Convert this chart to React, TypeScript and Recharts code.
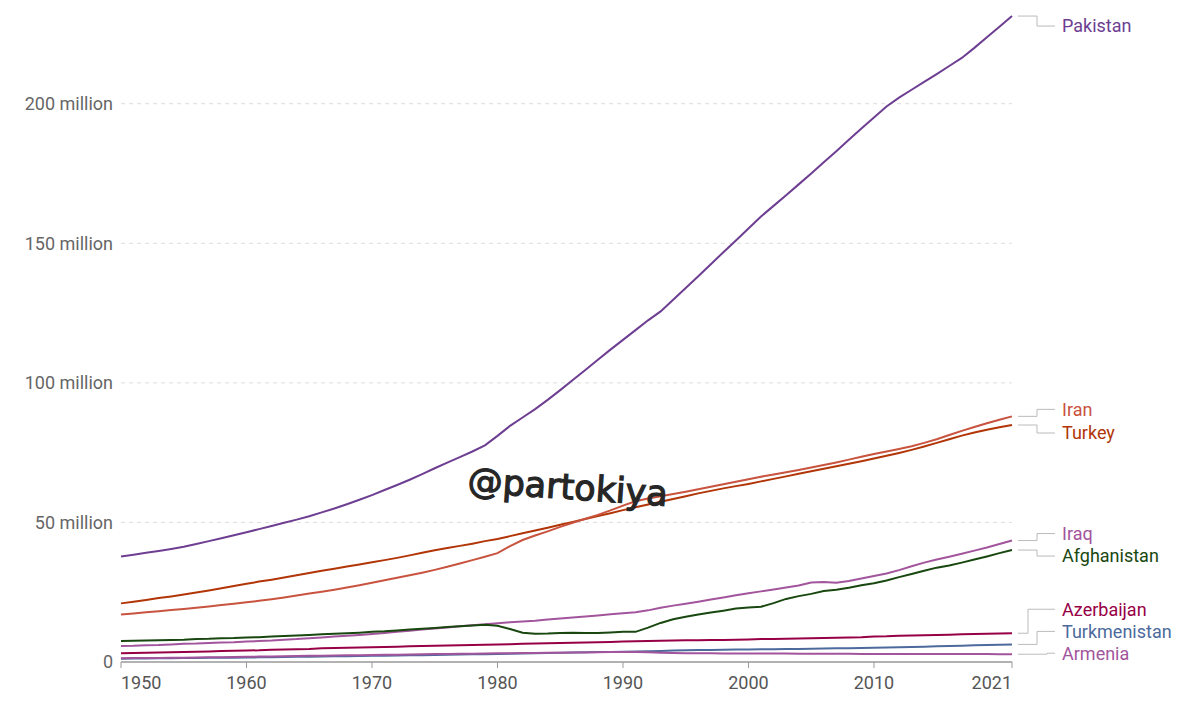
import React from 'react';
import { LineChart, Line, XAxis, YAxis, ReferenceLine, LabelList } from 'recharts';

const years = [
  1950, 1951, 1952, 1953, 1954, 1955, 1956, 1957, 1958, 1959,
  1960, 1961, 1962, 1963, 1964, 1965, 1966, 1967, 1968, 1969,
  1970, 1971, 1972, 1973, 1974, 1975, 1976, 1977, 1978, 1979,
  1980, 1981, 1982, 1983, 1984, 1985, 1986, 1987, 1988, 1989,
  1990, 1991, 1992, 1993, 1994, 1995, 1996, 1997, 1998, 1999,
  2000, 2001, 2002, 2003, 2004, 2005, 2006, 2007, 2008, 2009,
  2010, 2011, 2012, 2013, 2014, 2015, 2016, 2017, 2018, 2019,
  2020, 2021,
];

// population, millions
const pakistan = [
  37.8, 38.4, 39.1, 39.8, 40.5, 41.3, 42.3, 43.3, 44.3, 45.4,
  46.5, 47.6, 48.7, 49.9, 51.0, 52.2, 53.6, 55.0, 56.5, 58.1,
  59.8, 61.6, 63.4, 65.3, 67.3, 69.4, 71.4, 73.4, 75.4, 77.6,
  81.0, 84.6, 87.6, 90.6, 93.9, 97.4, 101.0, 104.6, 108.3, 111.9,
  115.4, 118.9, 122.4, 125.6, 129.8, 134.0, 138.2, 142.5, 146.8, 151.0,
  155.3, 159.6, 163.4, 167.2, 171.1, 175.0, 179.0, 183.0, 187.1, 191.1,
  195.1, 199.0, 202.2, 205.0, 207.8, 210.6, 213.5, 216.4, 220.0, 223.8,
  227.6, 231.4,
];
const iran = [
  17.0, 17.4, 17.8, 18.2, 18.6, 19.0, 19.4, 19.9, 20.4, 20.9,
  21.4, 21.9, 22.5, 23.1, 23.8, 24.5, 25.2, 25.9, 26.7, 27.5,
  28.4, 29.3, 30.2, 31.1, 32.0, 33.0, 34.1, 35.3, 36.5, 37.7,
  39.0, 41.5, 43.7, 45.3, 46.8, 48.4, 49.9, 51.3, 52.7, 54.3,
  56.0, 57.6, 58.6, 59.4, 60.2, 61.0, 61.9, 62.8, 63.7, 64.6,
  65.5, 66.4, 67.2, 68.0, 68.8, 69.7, 70.6, 71.5, 72.5, 73.5,
  74.5, 75.4, 76.3, 77.3, 78.5, 79.8, 81.3, 82.8, 84.2, 85.5,
  86.8, 88.0,
];
const turkey = [
  21.0, 21.6, 22.2, 22.9, 23.5, 24.2, 24.9, 25.6, 26.4, 27.2,
  28.0, 28.8, 29.5, 30.3, 31.1, 31.9, 32.7, 33.4, 34.2, 34.9,
  35.7, 36.5, 37.3, 38.2, 39.1, 40.0, 40.8, 41.6, 42.4, 43.3,
  44.1, 45.1, 46.1, 47.1, 48.1, 49.2, 50.2, 51.2, 52.3, 53.3,
  54.4, 55.4, 56.4, 57.4, 58.4, 59.4, 60.4, 61.3, 62.2, 63.0,
  63.8, 64.7, 65.6, 66.5, 67.4, 68.3, 69.2, 70.1, 71.0, 71.9,
  72.9, 73.9, 74.9, 76.0, 77.2, 78.5, 79.8, 81.1, 82.2, 83.2,
  84.1, 84.9,
];
const iraq = [
  5.7, 5.8, 6.0, 6.1, 6.3, 6.5, 6.6, 6.8, 7.0, 7.1,
  7.3, 7.5, 7.7, 8.0, 8.2, 8.5, 8.8, 9.1, 9.4, 9.7,
  10.0, 10.4, 10.8, 11.2, 11.6, 12.0, 12.4, 12.8, 13.2, 13.5,
  13.9, 14.2, 14.5, 14.8, 15.2, 15.6, 15.9, 16.3, 16.7, 17.1,
  17.5, 17.8, 18.5, 19.4, 20.2, 20.9, 21.6, 22.4, 23.1, 23.9,
  24.6, 25.3, 26.0, 26.7, 27.4, 28.5, 28.7, 28.4, 29.0, 29.9,
  30.8, 31.7, 32.9, 34.3, 35.6, 36.7, 37.7, 38.8, 39.9, 41.0,
  42.3, 43.5,
];
const afghanistan = [
  7.5, 7.6, 7.7, 7.8, 7.9, 8.0, 8.2, 8.3, 8.5, 8.6,
  8.8, 8.9, 9.1, 9.3, 9.5, 9.7, 9.9, 10.1, 10.3, 10.5,
  10.8, 11.0, 11.3, 11.6, 11.9, 12.2, 12.5, 12.8, 13.1, 13.3,
  13.0, 11.8, 10.5, 10.1, 10.2, 10.4, 10.5, 10.4, 10.4, 10.6,
  10.8, 10.8, 12.3, 14.0, 15.3, 16.2, 17.0, 17.7, 18.4, 19.2,
  19.5, 19.8, 21.1, 22.6, 23.6, 24.4, 25.4, 25.9, 26.6, 27.5,
  28.2, 29.2, 30.4, 31.5, 32.7, 33.8, 34.6, 35.6, 36.7, 37.8,
  39.0, 40.1,
];
const azerbaijan = [
  3.1, 3.2, 3.3, 3.4, 3.5, 3.6, 3.7, 3.8, 3.9, 4.0,
  4.1, 4.2, 4.4, 4.5, 4.6, 4.7, 4.9, 5.0, 5.1, 5.2,
  5.3, 5.4, 5.5, 5.6, 5.7, 5.8, 5.9, 6.0, 6.1, 6.2,
  6.3, 6.4, 6.5, 6.6, 6.7, 6.8, 6.9, 7.0, 7.1, 7.2,
  7.3, 7.4, 7.5, 7.6, 7.7, 7.8, 7.8, 7.9, 7.9, 8.0,
  8.1, 8.2, 8.2, 8.3, 8.4, 8.5, 8.6, 8.7, 8.8, 8.9,
  9.1, 9.2, 9.4, 9.5, 9.6, 9.7, 9.8, 9.9, 10.0, 10.1,
  10.2, 10.3,
];
const turkmenistan = [
  1.2, 1.24, 1.28, 1.32, 1.36, 1.4, 1.44, 1.48, 1.52, 1.56,
  1.6, 1.66, 1.72, 1.78, 1.84, 1.9, 1.96, 2.02, 2.08, 2.14,
  2.2, 2.26, 2.32, 2.38, 2.44, 2.5, 2.58, 2.66, 2.74, 2.82,
  2.9, 2.98, 3.06, 3.14, 3.22, 3.3, 3.38, 3.46, 3.54, 3.62,
  3.7, 3.78, 3.88, 3.98, 4.08, 4.18, 4.26, 4.32, 4.38, 4.44,
  4.5, 4.55, 4.6, 4.65, 4.7, 4.75, 4.82, 4.89, 4.96, 5.03,
  5.1, 5.2, 5.3, 5.4, 5.5, 5.6, 5.72, 5.84, 5.96, 6.08,
  6.2, 6.3,
];
const armenia = [
  1.35, 1.39, 1.43, 1.47, 1.51, 1.56, 1.62, 1.68, 1.74, 1.8,
  1.87, 1.94, 2.01, 2.07, 2.14, 2.2, 2.27, 2.33, 2.4, 2.46,
  2.52, 2.58, 2.64, 2.71, 2.77, 2.83, 2.88, 2.94, 2.99, 3.05,
  3.1, 3.15, 3.2, 3.25, 3.3, 3.34, 3.39, 3.44, 3.5, 3.54,
  3.56, 3.55, 3.45, 3.3, 3.2, 3.15, 3.12, 3.1, 3.08, 3.07,
  3.07, 3.05, 3.03, 3.01, 3.0, 2.98, 2.96, 2.94, 2.92, 2.9,
  2.88, 2.88, 2.88, 2.88, 2.89, 2.89, 2.88, 2.86, 2.85, 2.83,
  2.81, 2.79,
];

const xTicks = [1950, 1960, 1970, 1980, 1990, 2000, 2010, 2021];
const yTicks = [0, 50, 100, 150, 200];
const yTickLabels = ['0', '50 million', '100 million', '150 million', '200 million'];
const gridValues = [50, 100, 150, 200];

const seriesList = [
  { key: 'Turkmenistan', values: turkmenistan, color: '#4C6A9C', labelDy: -13, elbow: 25 },
  { key: 'Armenia', values: armenia, color: '#A2559C', labelDy: -1, elbow: 35 },
  { key: 'Azerbaijan', values: azerbaijan, color: '#970046', labelDy: -24, elbow: 16 },
  { key: 'Iraq', values: iraq, color: '#A2559C', labelDy: -7, elbow: 25 },
  { key: 'Afghanistan', values: afghanistan, color: '#18470F', labelDy: 6, elbow: 25 },
  { key: 'Turkey', values: turkey, color: '#B13507', labelDy: 8, elbow: 25 },
  { key: 'Iran', values: iran, color: '#C8533E', labelDy: -7, elbow: 25 },
  { key: 'Pakistan', values: pakistan, color: '#6D3E91', labelDy: 10, elbow: 25 },
];

const data = years.map((year, i) => {
  const row: Record<string, number> = { year };
  seriesList.forEach((s) => {
    row[s.key] = s.values[i];
  });
  return row;
});

const FONT = 'Roboto, "Noto Sans", sans-serif';

const YTick = (props: any) => {
  const { y, payload } = props;
  const idx = yTicks.indexOf(payload.value);
  return (
    <text x={113} y={y} dy="0.35em" textAnchor="end" fill="#666" fontSize={18} fontFamily={FONT}>
      {yTickLabels[idx]}
    </text>
  );
};

const XTick = (props: any) => {
  const { x, y, payload } = props;
  const v = payload.value;
  const anchor = v === 1950 ? 'start' : v === 2021 ? 'end' : 'middle';
  return (
    <text x={x} y={y} dy={19} textAnchor={anchor} fill="#555" fontSize={18} fontFamily={FONT}>
      {v}
    </text>
  );
};

const makeEndLabel = (name: string, color: string, labelDy: number, elbow: number) => (props: any) => {
  const { x, y, index } = props;
  if (index !== years.length - 1) return null;
  const x0 = x + 6;
  const xe = x + elbow;
  const x1 = x + 43;
  const ty = y + labelDy;
  return (
    <g>
      <path
        d={`M${x0},${y} L${xe},${y} L${xe},${ty} L${x1},${ty}`}
        fill="none"
        stroke="#bbb"
        strokeWidth={1}
      />
      <text x={x + 50} y={ty} dy="0.35em" fill={color} fontSize={18} fontFamily={FONT}>
        {name}
      </text>
    </g>
  );
};

export default function App() {
  return (
    <div style={{ position: 'absolute', left: 0, top: 0, width: 1200, height: 716, background: '#fff' }}>
      <LineChart
        width={1200}
        height={716}
        data={data}
        margin={{ top: 6, right: 188, bottom: 24, left: 0 }}
      >
        {gridValues.map((v) => (
          <ReferenceLine key={v} y={v} stroke="#ddd" strokeDasharray="4 4" />
        ))}
        <XAxis
          dataKey="year"
          type="number"
          domain={[1950, 2021]}
          ticks={xTicks}
          interval={0}
          height={30}
          axisLine={{ stroke: '#999', strokeWidth: 1.5 }}
          tickLine={{ stroke: '#999' }}
          tickSize={6}
          tick={<XTick />}
        />
        <YAxis
          type="number"
          domain={[0, 235]}
          ticks={yTicks}
          interval={0}
          width={121}
          axisLine={false}
          tickLine={false}
          tick={<YTick />}
        />
        {seriesList.map((s) => (
          <Line
            key={s.key}
            dataKey={s.key}
            type="linear"
            stroke={s.color}
            strokeWidth={2}
            dot={false}
            activeDot={false}
            isAnimationActive={false}
          >
            <LabelList dataKey={s.key} content={makeEndLabel(s.key, s.color, s.labelDy, s.elbow)} />
          </Line>
        ))}
      </LineChart>
      <svg
        width={1200}
        height={716}
        style={{ position: 'absolute', left: 0, top: 0, pointerEvents: 'none' }}
      >
        <text
          x={467}
          y={492}
          transform="rotate(4 467 492)"
          fill="#262626"
          stroke="#262626"
          strokeWidth={1.2}
          fontSize={35}
          fontFamily='"DejaVu Sans", sans-serif'
        >
          @partokiya
        </text>
      </svg>
    </div>
  );
}
